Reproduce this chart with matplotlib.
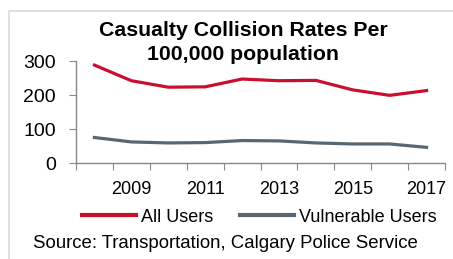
import matplotlib
matplotlib.use("Agg")
import matplotlib.pyplot as plt
from matplotlib.lines import Line2D
from matplotlib.patches import Rectangle

years = [2008, 2009, 2010, 2011, 2012, 2013, 2014, 2015, 2016, 2017]
all_users = [288, 242, 223, 224, 247, 242, 243, 215, 199, 213]
vulnerable_users = [75, 62, 59, 60, 66, 65, 59, 56, 56, 46]
year_labels = ["2009", "2011", "2013", "2015", "2017"]

plt.rcParams['font.family'] = ['Liberation Sans', 'DejaVu Sans']

red = '#C8102E'
gray = '#5B6770'

fig = plt.figure(figsize=(4.53, 2.59), dpi=100)
ax = fig.add_axes([76/453, 1 - 163/259, (445 - 76)/453, (163 - 61)/259])

# outer border (chart area frame, cut by the image edge)
fig.patches.append(Rectangle((9/453, -0.1), 1.2, 1 - 11/259 + 0.1,
                             transform=fig.transFigure, fill=False,
                             edgecolor='#d9d9d9', linewidth=1.2))

x = list(range(len(years)))
ax.plot(x, all_users, color=red, linewidth=2.3, label='All Users')
ax.plot(x, vulnerable_users, color=gray, linewidth=2.3, label='Vulnerable Users')

ax.set_xlim(-0.5, len(years) - 0.5)
ax.set_ylim(0, 300)
ax.set_yticks([0, 100, 200, 300])
ax.tick_params(axis='y', labelsize=14, length=5, color='#888888', pad=9.5)

# category boundaries as tick marks, labels on every other year
ax.set_xticks([i - 0.5 for i in range(len(years) + 1)])
ax.set_xticklabels([])
ax.tick_params(axis='x', which='major', length=5, color='#888888')
ax.set_xticks([years.index(int(y)) for y in year_labels], minor=True)
ax.set_xticklabels(year_labels, minor=True)
ax.tick_params(axis='x', which='minor', length=0, labelsize=13, pad=13)

for s in ['top', 'right']:
    ax.spines[s].set_visible(False)
for s in ['left', 'bottom']:
    ax.spines[s].set_color('#888888')
    ax.spines[s].set_linewidth(1)

fig.text(243/453, 1 - 30/259, 'Casualty Collision Rates Per', ha='center', va='center',
         fontsize=15.3, fontweight='bold')
fig.text(243/453, 1 - 55/259, '100,000 population', ha='center', va='center',
         fontsize=15.3, fontweight='bold')

handles = [Line2D([], [], color=red, linewidth=3), Line2D([], [], color=gray, linewidth=3)]
fig.legend(handles, ['All Users', 'Vulnerable Users'], loc='center',
           bbox_to_anchor=(259/453, 1 - 217/259), ncol=2, frameon=False,
           fontsize=13, handlelength=3.0, handletextpad=0.25, columnspacing=1.5,
           borderpad=0, borderaxespad=0)

fig.text(33/453, 1 - 244/259, 'Source: Transportation, Calgary Police Service',
         ha='left', va='center', fontsize=13.4)

fig.savefig('out.png', dpi=100)
